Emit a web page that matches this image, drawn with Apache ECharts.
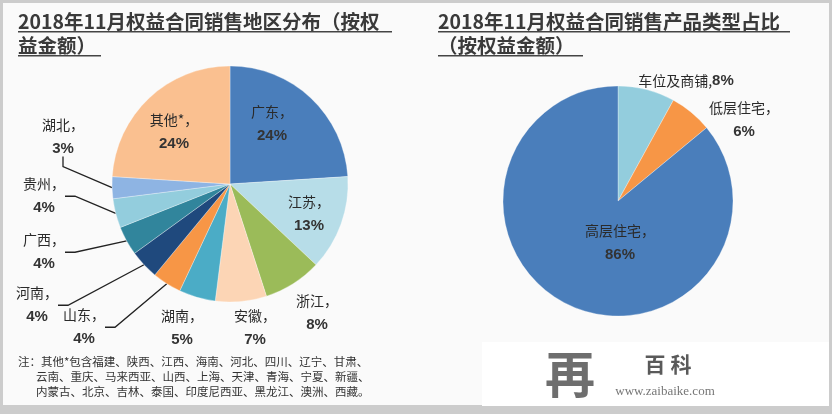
<!DOCTYPE html>
<html>
<head>
<meta charset="utf-8">
<script src="https://cdn.jsdelivr.net/npm/echarts@6/dist/echarts.min.js"></script>
<style>
html,body{margin:0;padding:0;background:#cccccc;}
#c{width:832px;height:414px;}
</style>
</head>
<body>
<div id="c"></div>
<script>
// ---- data ----
const regionNames = ['广东', '江苏', '浙江', '安徽', '湖南', '山东', '河南', '广西', '贵州', '湖北', '其他*'];
const regionShares = [24, 13, 8, 7, 5, 4, 4, 4, 4, 3, 24];
const productNames = ['车位及商铺', '低层住宅', '高层住宅'];
const productShares = [8, 6, 86];
const titleLeft = ['2018年11月权益合同销售地区分布（按权', '益金额）'];
const titleRight = ['2018年11月权益合同销售产品类型占比', '（按权益金额）'];
const noteLines = [
  '注：其他*包含福建、陕西、江西、海南、河北、四川、辽宁、甘肃、',
  '云南、重庆、马来西亚、山西、上海、天津、青海、宁夏、新疆、',
  '内蒙古、北京、吉林、泰国、印度尼西亚、黑龙江、澳洲、西藏。'
];

// ---- styles ----
const regionColors = ['#4a7ebb', '#b7dde8', '#9bbb59', '#fcd5b5', '#4bacc6', '#f79646', '#1f497d', '#31859c', '#93cddd', '#8eb4e3', '#fac090'];
const productColors = ['#93cddd', '#f79646', '#4a7ebb'];
const withLine = {'山东': 1, '河南': 1, '广西': 1, '贵州': 1, '湖北': 1};
// label anchor positions (label placement only)
const regionLabelPos = {
  '广东': [272, 124], '江苏': [309, 214], '浙江': [317, 313], '安徽': [255, 328], '湖南': [182, 328],
  '山东': [84, 327], '河南': [37, 305], '广西': [44, 252], '贵州': [44, 196], '湖北': [63, 137], '其他*': [174, 132]
};
const productLabelPos = {'车位及商铺': [686, 81], '低层住宅': [744, 120], '高层住宅': [620, 243]};

const CJK = '"Noto Sans CJK SC", sans-serif';
const rich = {
  n: {fontFamily: CJK, fontSize: 14, color: '#2a2a2a', lineHeight: 24},
  v: {fontFamily: 'Liberation Sans, Arial, sans-serif', fontSize: 15, fontWeight: 'bold', color: '#333', lineHeight: 24}
};

function regionData() {
  return regionNames.map((n, i) => ({
    name: n, value: regionShares[i],
    itemStyle: {color: regionColors[i]},
    labelLine: {show: !!withLine[n]}
  }));
}
function productData() {
  return productNames.map((n, i) => ({
    name: n, value: productShares[i],
    itemStyle: {color: productColors[i]},
    labelLine: {show: false}
  }));
}

const graphics = [
  {type: 'rect', shape: {x: 3, y: 3, width: 826, height: 402}, style: {fill: '#fafafa'}, z: -1, silent: true}
];
function addTitle(lines, x, widths) {
  lines.forEach((t, i) => {
    const y = 22 + i * 24;
    graphics.push({type: 'text', x: x, y: y, style: {text: t, font: 'bold 19.5px ' + CJK, fill: '#3a3a3a', textVerticalAlign: 'middle'}, silent: true});
    graphics.push({type: 'rect', shape: {x: x, y: y + 9, width: widths[i], height: 1.5}, style: {fill: '#444'}, silent: true});
  });
}
addTitle(titleLeft, 18, [374, 83]);
addTitle(titleRight, 438, [352, 145]);
noteLines.forEach((t, i) => {
  graphics.push({type: 'text', x: i === 0 ? 18 : 36, y: 362 + i * 15, style: {text: t, font: '11.5px ' + CJK, fill: '#333', textVerticalAlign: 'middle'}, silent: true});
});
// watermark box
graphics.push({type: 'rect', shape: {x: 482, y: 342, width: 347, height: 64}, style: {fill: '#ffffff'}, silent: true});
graphics.push({type: 'text', x: 570, y: 374, style: {text: '再', font: 'bold 50px ' + CJK, fill: '#6e6e6e', textAlign: 'center', textVerticalAlign: 'middle'}, silent: true});
graphics.push({type: 'text', x: 668, y: 364, style: {text: '百 科', font: 'bold 21px ' + CJK, fill: '#5a5a5a', textAlign: 'center', textVerticalAlign: 'middle'}, silent: true});
graphics.push({type: 'text', x: 665, y: 392, style: {text: 'www.zaibaike.com', font: '13px "Liberation Serif", serif', fill: '#777', textAlign: 'center', textVerticalAlign: 'middle'}, silent: true});

const chart = echarts.init(document.getElementById('c'), null, {renderer: 'canvas'});
chart.setOption({
  backgroundColor: '#cccccc',
  animation: false,
  graphic: graphics,
  series: [
    {
      type: 'pie', center: [230, 184], radius: 118, startAngle: 90, clockwise: true,
      data: regionData(),
      itemStyle: {borderColor: 'rgba(255,255,255,0.6)', borderWidth: 0.5},
      label: {
        show: true, position: 'outside', rich: rich,
        formatter: p => '{n|' + p.name + '，}\n{v|' + p.value + '%}'
      },
      labelLine: {lineStyle: {color: '#222', width: 1.3}, length: 10, length2: 10},
      labelLayout: function (p) {
        const pos = regionLabelPos[regionNames[p.dataIndex]];
        return {x: pos[0], y: pos[1], align: 'center', verticalAlign: 'middle'};
      }
    },
    {
      type: 'pie', center: [618, 201], radius: 115, startAngle: 90, clockwise: true,
      data: productData(),
      itemStyle: {borderColor: 'rgba(255,255,255,0.6)', borderWidth: 0.5},
      label: {
        show: true, position: 'outside', rich: rich,
        formatter: p => p.name === '车位及商铺' ? '{n|' + p.name + ',}{v|' + p.value + '%}' : '{n|' + p.name + '，}\n{v|' + p.value + '%}'
      },
      labelLayout: function (p) {
        const pos = productLabelPos[productNames[p.dataIndex]];
        return {x: pos[0], y: pos[1], align: 'center', verticalAlign: 'middle'};
      }
    }
  ]
});
</script>
</body>
</html>
